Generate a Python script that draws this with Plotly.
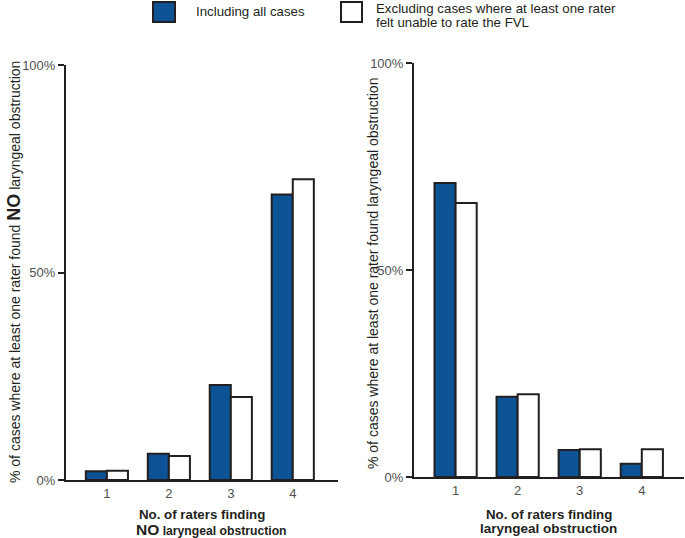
import plotly.graph_objects as go

categories = [1, 2, 3, 4]
tick_labels = ["1", "2", "3", "4"]
left_all = [2.1, 6.3, 22.9, 68.8]
left_excl = [2.2, 5.8, 20.0, 72.5]
right_all = [71.0, 19.4, 6.5, 3.2]
right_excl = [66.2, 20.0, 6.7, 6.7]

series_names = ["Including all cases",
                "Excluding cases where at least one rater<br>felt unable to rate the FVL"]

BLUE = "#0b5394"
DARK = "#231f20"
W, H = 685, 538

fig = go.Figure()
for xa, ya, a, b in [("x", "y", left_all, left_excl), ("x2", "y2", right_all, right_excl)]:
    fig.add_trace(go.Bar(x=categories, y=a, xaxis=xa, yaxis=ya, name=series_names[0],
                         marker=dict(color=BLUE, line=dict(color=DARK, width=2)),
                         showlegend=False))
    fig.add_trace(go.Bar(x=categories, y=b, xaxis=xa, yaxis=ya, name=series_names[1],
                         marker=dict(color="white", line=dict(color=DARK, width=2)),
                         showlegend=False))

def px_x(v):
    return v / W

def px_y(v):
    return 1 - v / H

tickfont = dict(family="Liberation Sans, Arial", size=13, color="#505050")
common_x = dict(tickmode="array", tickvals=categories, ticktext=tick_labels,
                showline=True, linecolor=DARK, linewidth=2, ticks="", showgrid=False,
                zeroline=False, tickfont=tickfont, fixedrange=True, automargin=False)
common_y = dict(range=[0, 100], tickvals=[0, 50, 100], ticktext=["0%", "50%", "100%"],
                showline=True, linecolor=DARK, linewidth=2, ticks="outside", ticklen=6,
                tickwidth=2, tickcolor=DARK, showgrid=False, zeroline=False,
                tickfont=tickfont, fixedrange=True, automargin=False)

fig.update_layout(
    width=W, height=H,
    margin=dict(l=0, r=0, t=0, b=0, autoexpand=False),
    paper_bgcolor="white", plot_bgcolor="white",
    barmode="group", bargap=0.32, bargroupgap=0,
    font=dict(family="Liberation Sans, Arial", size=14, color=DARK),
    xaxis=dict(domain=[px_x(66), px_x(338)], range=[0.34, 4.73], anchor="y", **common_x),
    yaxis=dict(domain=[px_y(480), px_y(65)], anchor="x", **common_y),
    xaxis2=dict(domain=[px_x(414), px_x(684)], range=[0.33, 4.68], anchor="y2", **common_x),
    yaxis2=dict(domain=[px_y(477), px_y(63)], anchor="x2", **common_y),
)

def note(text, x, y, size, **kw):
    d = dict(text=text, x=px_x(x), y=px_y(y), xref="paper", yref="paper", showarrow=False,
             font=dict(size=size, color=DARK), xanchor=kw.pop("xanchor", "center"),
             yanchor=kw.pop("yanchor", "middle"), borderpad=0)
    d.update(kw)
    return d

ann = []
# y-axis titles
ann.append(note("% of cases where at least one rater found <b><span style='font-size:18px'>NO</span></b> laryngeal obstruction",
                14, 272, 14, textangle=-90))
ann.append(note("% of cases where at least one rater found laryngeal obstruction",
                373, 274, 14, textangle=-90))
# x-axis titles (two lines each)
ann.append(note("<b>No. of raters finding</b>", 202, 514, 13.3))
ann.append(note("<b><span style='font-size:15.5px'>NO</span> laryngeal obstruction</b>", 211, 529, 12.2))
ann.append(note("<b>No. of raters finding</b>", 549, 514, 13.3))
ann.append(note("<b>laryngeal obstruction</b>", 548, 528, 13.5))
# legend texts
ann.append(note(series_names[0], 195, 11, 13.3, xanchor="left"))
leg2 = series_names[1].split("<br>")
ann.append(note(leg2[0], 375, 0, 13.3, xanchor="left", yanchor="top"))
ann.append(note(leg2[1], 375, 22, 13.3, xanchor="left"))
fig.update_layout(annotations=ann)

fig.update_layout(shapes=[
    dict(type="rect", xref="paper", yref="paper", x0=px_x(153), x1=px_x(175), y0=px_y(22), y1=px_y(2),
         fillcolor=BLUE, line=dict(color=DARK, width=2)),
    dict(type="rect", xref="paper", yref="paper", x0=px_x(341), x1=px_x(362), y0=px_y(22), y1=px_y(2),
         fillcolor="white", line=dict(color=DARK, width=2)),
])

fig.write_html("out.html", config={"displayModeBar": False},
               post_script="document.body.style.margin='0';document.body.style.overflow='hidden';")
